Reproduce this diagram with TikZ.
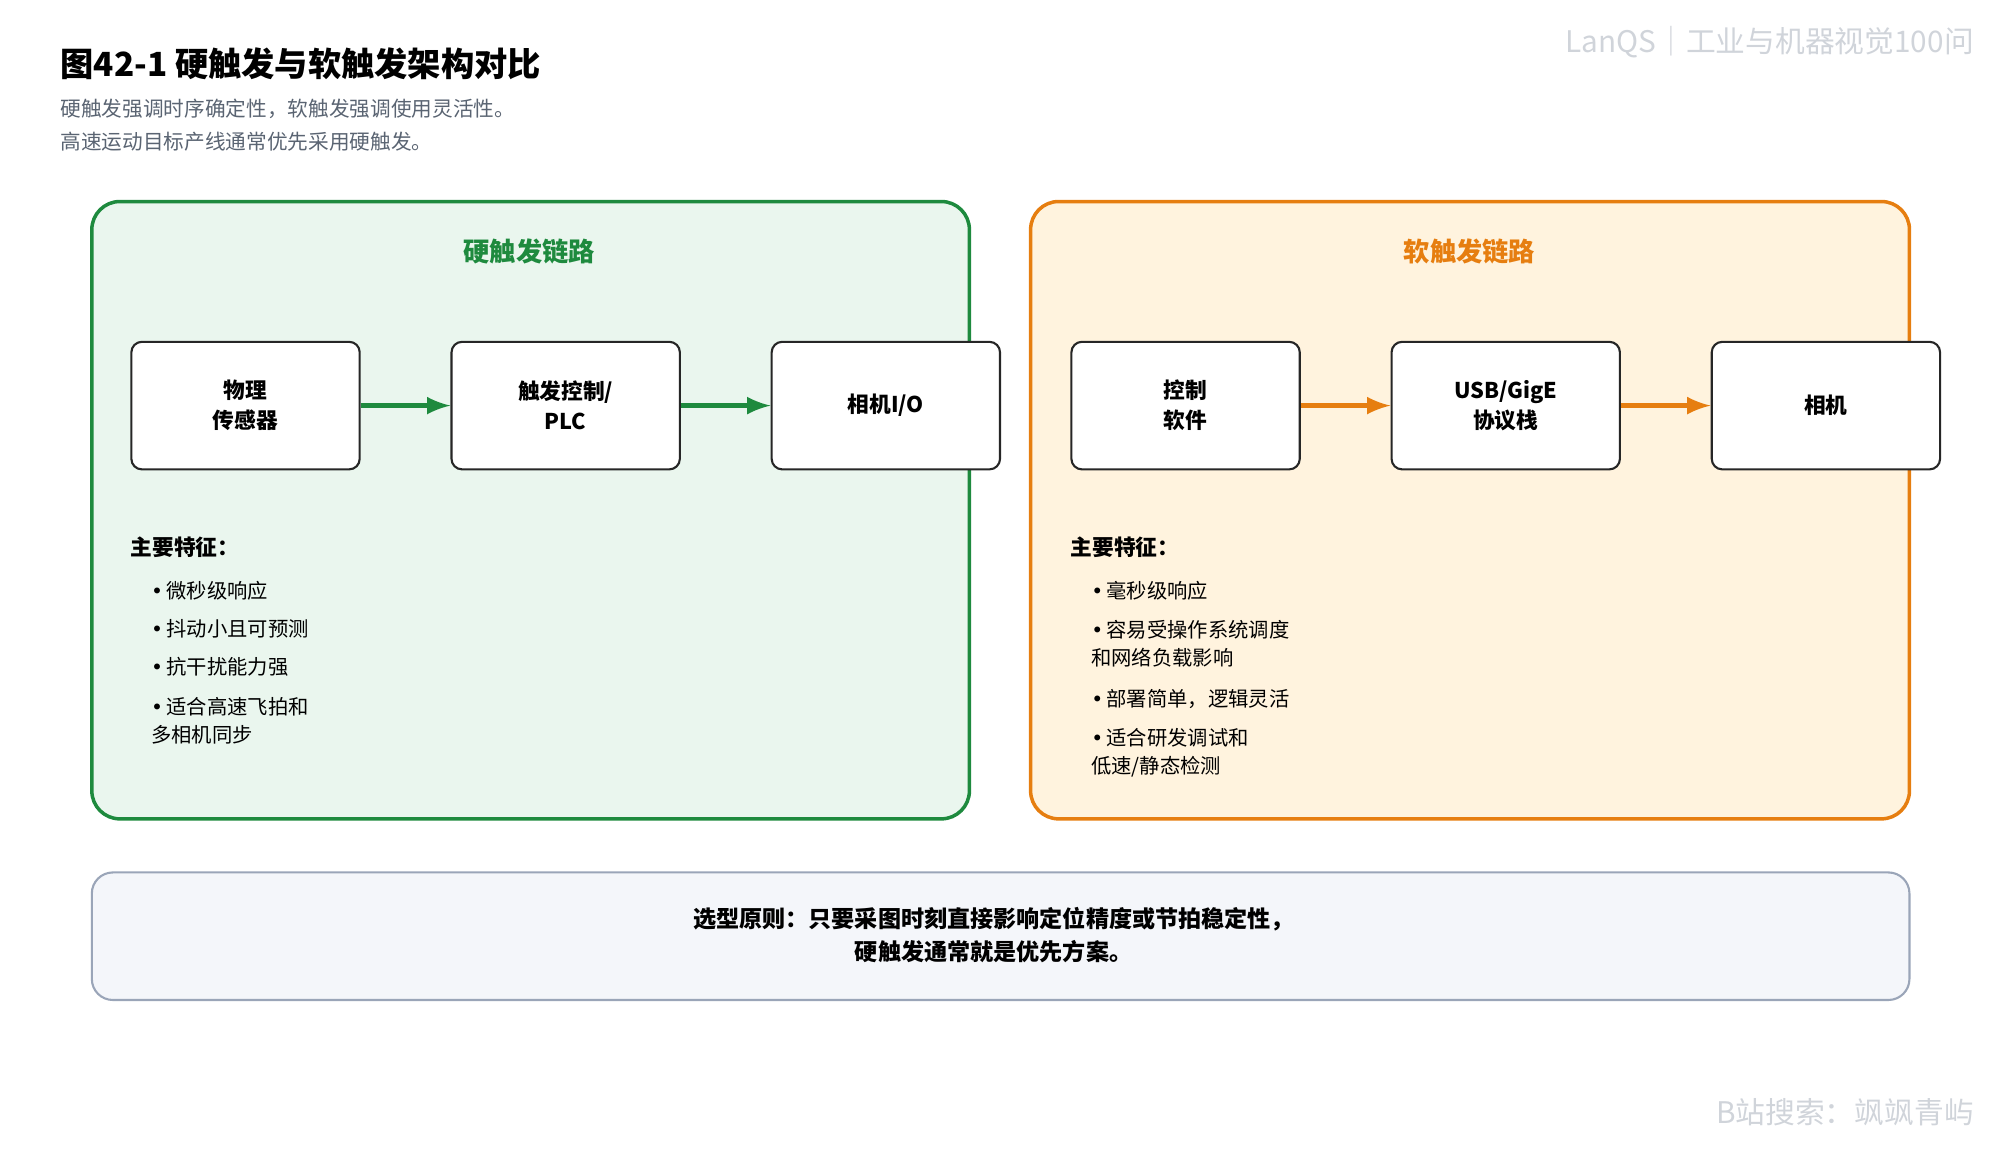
\documentclass[tikz,border=0pt]{standalone}
\usepackage{fontspec}
\setmainfont{Noto Sans CJK SC}
\newfontfamily\dotfont{DejaVu Sans}
\usetikzlibrary{positioning}
\definecolor{hardgreen}{HTML}{1E8A3E}
\definecolor{hardfill}{HTML}{EAF6EE}
\definecolor{softorange}{HTML}{E67E10}
\definecolor{softfill}{HTML}{FFF3DE}
\definecolor{notefill}{HTML}{F4F6FA}
\definecolor{noteline}{HTML}{9AA5B8}
\definecolor{subgray}{HTML}{5A6472}
\definecolor{markgray}{HTML}{D0D4DA}
\newcommand{\itemdot}{{\dotfont •}\,}
\begin{document}
\begin{tikzpicture}[x=0.0128cm,y=-0.0128cm]
  \tikzset{panel/.style={draw,rounded corners=8pt,line width=1pt}}
  \tikzset{block/.style={draw=black!85,fill=white,rounded corners=3pt,line width=0.6pt,
    minimum width=179*0.0128cm,minimum height=100*0.0128cm,align=center,
    font=\fontsize{6.2}{8.6}\selectfont\bfseries}}
  \tikzset{flow/.style={->,>=latex,line width=1.3pt}}
  \tikzset{feat/.style={anchor=west,inner sep=0pt,font=\fontsize{5.8}{8}\selectfont,align=left}}
  \useasboundingbox (0,0) rectangle (1568,901.6);
  % heading
  \node[anchor=west,inner sep=0pt,font=\fontsize{9.5}{11}\selectfont\bfseries] (title) at (47,50) {图42-1 硬触发与软触发架构对比};
  \node[anchor=west,inner sep=0pt,font=\fontsize{5.9}{8}\selectfont,text=subgray] (sub1) at (47,85) {硬触发强调时序确定性，软触发强调使用灵活性。};
  \node[anchor=west,inner sep=0pt,font=\fontsize{5.9}{8}\selectfont,text=subgray] (sub2) at (47,111) {高速运动目标产线通常优先采用硬触发。};
  \node[anchor=east,inner sep=0pt,font=\fontsize{8.5}{10}\selectfont,text=markgray] (mark1) at (1548,33) {LanQS｜工业与机器视觉100问};
  \node[anchor=east,inner sep=0pt,font=\fontsize{8.5}{10}\selectfont,text=markgray] (mark2) at (1548,872) {B站搜索：飒飒青屿};
  % panels
  \draw[panel,draw=hardgreen,fill=hardfill] (72,158) rectangle (760,642);
  \draw[panel,draw=softorange,fill=softfill] (808,158) rectangle (1497,642);
  \node[text=hardgreen,font=\fontsize{7.5}{9}\selectfont\bfseries] (hardhead) at (415,197) {硬触发链路};
  \node[text=softorange,font=\fontsize{7.5}{9}\selectfont\bfseries] (softhead) at (1152,197) {软触发链路};
  % hard chain
  \node[block] (sensor) at (192.5,318) {物理\\传感器};
  \node[block] (plc) at (443.5,318) {触发控制/\\PLC};
  \node[block] (camio) at (694.5,318) {相机I/O};
  \draw[flow,hardgreen] (sensor) -- (plc);
  \draw[flow,hardgreen] (plc) -- (camio);
  % soft chain
  \node[block] (ctrl) at (929.5,318) {控制\\软件};
  \node[block] (usb) at (1180.5,318) {USB/GigE\\协议栈};
  \node[block] (cam) at (1431.5,318) {相机};
  \draw[flow,softorange] (ctrl) -- (usb);
  \draw[flow,softorange] (usb) -- (cam);
  % features
  \node[feat,font=\fontsize{6.2}{8}\selectfont\bfseries] (hardkey) at (102,429) {主要特征：};
  \node[feat] (h1) at (118,463) {\itemdot 微秒级响应};
  \node[feat] (h2) at (118,493) {\itemdot 抖动小且可预测};
  \node[feat] (h3) at (118,523) {\itemdot 抗干扰能力强};
  \node[feat] (h4) at (118,565) {\itemdot 适合高速飞拍和\\多相机同步};
  \node[feat,font=\fontsize{6.2}{8}\selectfont\bfseries] (softkey) at (839,429) {主要特征：};
  \node[feat] (s1) at (855,463) {\itemdot 毫秒级响应};
  \node[feat] (s2) at (855,505) {\itemdot 容易受操作系统调度\\和网络负载影响};
  \node[feat] (s3) at (855,548) {\itemdot 部署简单，逻辑灵活};
  \node[feat] (s4) at (855,590) {\itemdot 适合研发调试和\\低速/静态检测};
  % note
  \draw[draw=noteline,fill=notefill,rounded corners=6pt,line width=0.6pt] (72,684) rectangle (1497,784);
  \node[align=center,font=\fontsize{6.6}{9.5}\selectfont\bfseries] (note) at (779,733) {选型原则：只要采图时刻直接影响定位精度或节拍稳定性，\\硬触发通常就是优先方案。};
\end{tikzpicture}
\end{document}
